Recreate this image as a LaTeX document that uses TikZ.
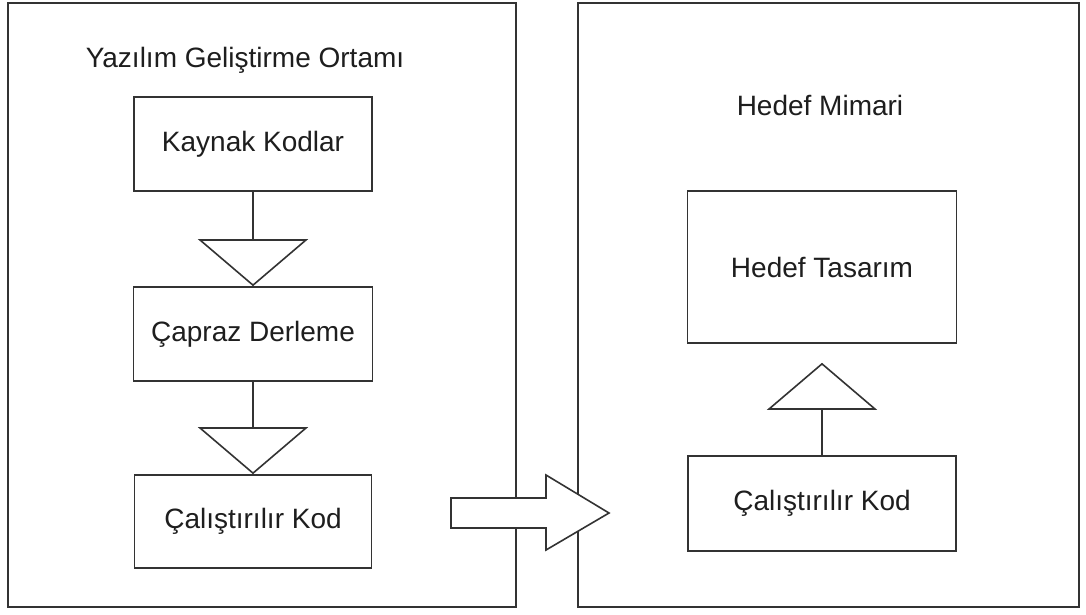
\documentclass[tikz,border=0pt]{standalone}
\usepackage{fontspec}
\setmainfont{Liberation Sans}
\usetikzlibrary{arrows.meta}
\definecolor{edge}{HTML}{333333}
\definecolor{ink}{HTML}{1E1E1E}
\begin{document}
\begin{tikzpicture}[x=1pt,y=-1pt,
  frame/.style={draw=edge,line width=1.6pt},
  stepbox/.style={draw=edge,line width=1.6pt,inner sep=0pt,text=ink,
    font=\fontsize{28}{32}\selectfont},
  label/.style={inner sep=0pt,text=ink,font=\fontsize{28}{32}\selectfont},
  flow/.style={draw=edge,line width=1.6pt,
    -{Triangle[open,length=47pt,width=110pt,line width=1.6pt]}}]
\useasboundingbox (0,0) rectangle (1086,614);
\fill[white] (0,0) rectangle (1086,614);

% two environments
\draw[frame] (8,3) rectangle (516,607);
\draw[frame] (578,3) rectangle (1079,607);

% development environment
\node[label] (devtitle) at (245,60) {Yazılım Geliştirme Ortamı};
\node[stepbox,minimum width=238pt,minimum height=94pt] (src) at (253,144) {Kaynak Kodlar};
\node[stepbox,minimum width=239pt,minimum height=94pt] (cross) at (253,334) {Çapraz Derleme};
\node[stepbox,minimum width=237pt,minimum height=93pt] (exeL) at (253,521.5) {Çalıştırılır Kod};
\draw[flow] (src.south) -- (cross.north);
\draw[flow] (cross.south) -- (exeL.north);

% transfer arrow
\coordinate (tr) at (451,513);
\draw[draw=edge,line width=1.6pt,line join=miter,fill=white]
  (tr) ++(0,-15) -- ++(95,0) -- ++(0,-23) -- ++(63,38) -- ++(-63,37)
  -- ++(0,-22) -- ++(-95,0) -- cycle;

% target architecture
\node[label] (tgttitle) at (820,105) {Hedef Mimari};
\node[stepbox,minimum width=269pt,minimum height=152pt] (design) at (822,267) {Hedef Tasarım};
\node[stepbox,minimum width=268pt,minimum height=95pt] (exeR) at (822,503.5) {Çalıştırılır Kod};
\draw[flow,shorten >=19pt] (exeR.north) -- (design.south);
\end{tikzpicture}
\end{document}
